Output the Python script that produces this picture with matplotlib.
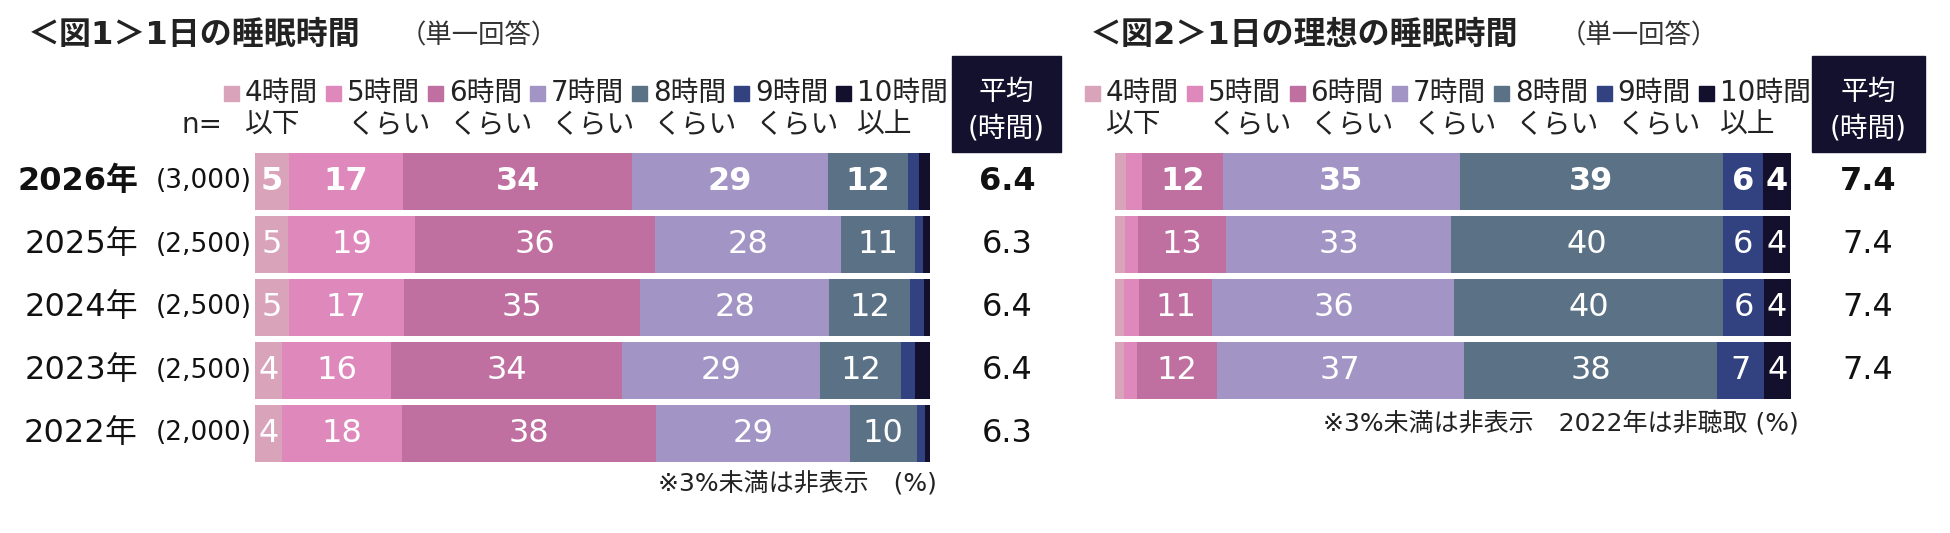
import matplotlib.pyplot as plt
from matplotlib.patches import Rectangle
from matplotlib import transforms

plt.rcParams['font.family'] = ['DejaVu Sans', 'Noto Sans CJK JP']

# ---- data ----
categories = ['4時間', '5時間', '6時間', '7時間', '8時間', '9時間', '10時間']
categories_2 = ['以下', 'くらい', 'くらい', 'くらい', 'くらい', 'くらい', '以上']
colors = ['#d9a3b9', '#de88bc', '#c070a0', '#a294c4', '#5b7186', '#324280', '#13102d']

years1 = ['2026年', '2025年', '2024年', '2023年', '2022年']
n1 = ['(3,000)', '(2,500)', '(2,500)', '(2,500)', '(2,000)']
h4_1 = [5, 5, 5, 4, 4]
h5_1 = [17, 19, 17, 16, 18]
h6_1 = [34, 36, 35, 34, 38]
h7_1 = [29, 28, 28, 29, 29]
h8_1 = [12, 11, 12, 12, 10]
h9_1 = [1.6, 1.2, 2.0, 2.0, 1.3]
h10_1 = [1.6, 1.1, 0.9, 2.2, 0.7]
avg1 = ['6.4', '6.3', '6.4', '6.4', '6.3']

h4_2 = [1.7, 1.4, 1.3, 1.4]
h5_2 = [2.3, 2.0, 2.2, 1.9]
h6_2 = [12, 13, 11, 12]
h7_2 = [35, 33, 36, 37]
h8_2 = [39, 40, 40, 38]
h9_2 = [6, 6, 6, 7]
h10_2 = [4, 4, 4, 4]
avg2 = ['7.4', '7.4', '7.4', '7.4']

W, H = 1950, 533
fig = plt.figure(figsize=(W / 100, H / 100), dpi=100)


def fx(px):
    return px / W


def fy(py):
    return 1 - py / H


def draw_bars(ax, series):
    nrows = len(series[0])
    for i in range(nrows):
        vals = [s[i] for s in series]
        total = sum(vals)
        left = 0
        for j, v in enumerate(vals):
            w = v / total * 100
            ax.barh(i, w, left=left, height=0.9, color=colors[j], linewidth=0)
            if v >= 3:
                ax.text(left + w / 2, i, str(int(round(v))), ha='center', va='center',
                        color='white', fontsize=23,
                        fontweight='bold' if i == 0 else 'normal')
            left += w
    ax.set_xlim(0, 100)
    ax.set_ylim(4.5, -0.5)
    ax.axis('off')


def draw_legend(x0, step):
    for j in range(len(categories)):
        x = x0 + step * j
        fig.patches.append(Rectangle((fx(x), fy(101)), 15 / W, 15 / H,
                                     transform=fig.transFigure, color=colors[j]))
        fig.text(fx(x + 21), fy(93), categories[j], fontsize=20, color='#222222',
                 ha='left', va='center')
        fig.text(fx(x + 21), fy(125), categories_2[j], fontsize=20, color='#222222',
                 ha='left', va='center')


def draw_avg_box(x0, x1):
    fig.patches.append(Rectangle((fx(x0), fy(152)), (x1 - x0) / W, 96 / H,
                                 transform=fig.transFigure, color='#14112e'))
    xc = fx((x0 + x1) / 2)
    fig.text(xc, fy(92), '平均', color='white', fontsize=20, ha='center', va='center')
    fig.text(xc, fy(128), '(時間)', color='white', fontsize=20, ha='center', va='center')


# ---- chart 1 ----
ax1 = fig.add_axes([fx(255), fy(465), (930 - 255) / W, 315 / H])
draw_bars(ax1, [h4_1, h5_1, h6_1, h7_1, h8_1, h9_1, h10_1])
tr1 = transforms.blended_transform_factory(fig.transFigure, ax1.transData)
for i in range(len(years1)):
    fw = 'bold' if i == 0 else 'normal'
    ax1.text(fx(138), i, years1[i], transform=tr1, ha='right', va='center',
             fontsize=23, fontweight=fw, color='#111111')
    ax1.text(fx(252), i, n1[i], transform=tr1, ha='right', va='center',
             fontsize=19, color='#111111')
    ax1.text(fx(1007), i, avg1[i], transform=tr1, ha='center', va='center',
             fontsize=23, fontweight=fw, color='#111111')

fig.text(fx(28), fy(35), '＜図1＞1日の睡眠時間', fontsize=23, fontweight='bold',
         color='#222222', ha='left', va='center')
fig.text(fx(400), fy(36), '（単一回答）', fontsize=19, color='#333333',
         ha='left', va='center')
fig.text(fx(222), fy(125), 'n=', fontsize=20, color='#222222', ha='right', va='center')
draw_legend(224, 102)
draw_avg_box(952, 1061)
fig.text(fx(937), fy(483), '※3%未満は非表示　(%)', fontsize=18, color='#222222',
         ha='right', va='center')

# ---- chart 2 ----
ax2 = fig.add_axes([fx(1115), fy(465), (1790.5 - 1115) / W, 315 / H])
draw_bars(ax2, [h4_2, h5_2, h6_2, h7_2, h8_2, h9_2, h10_2])
tr2 = transforms.blended_transform_factory(fig.transFigure, ax2.transData)
for i in range(len(avg2)):
    fw = 'bold' if i == 0 else 'normal'
    ax2.text(fx(1868), i, avg2[i], transform=tr2, ha='center', va='center',
             fontsize=23, fontweight=fw, color='#111111')

fig.text(fx(1090), fy(35), '＜図2＞1日の理想の睡眠時間', fontsize=23, fontweight='bold',
         color='#222222', ha='left', va='center')
fig.text(fx(1560), fy(36), '（単一回答）', fontsize=19, color='#333333',
         ha='left', va='center')
draw_legend(1085, 102.3)
draw_avg_box(1812, 1925)
fig.text(fx(1799), fy(423), '※3%未満は非表示　2022年は非聴取 (%)', fontsize=18,
         color='#222222', ha='right', va='center')

plt.savefig('out.png', dpi=100)
